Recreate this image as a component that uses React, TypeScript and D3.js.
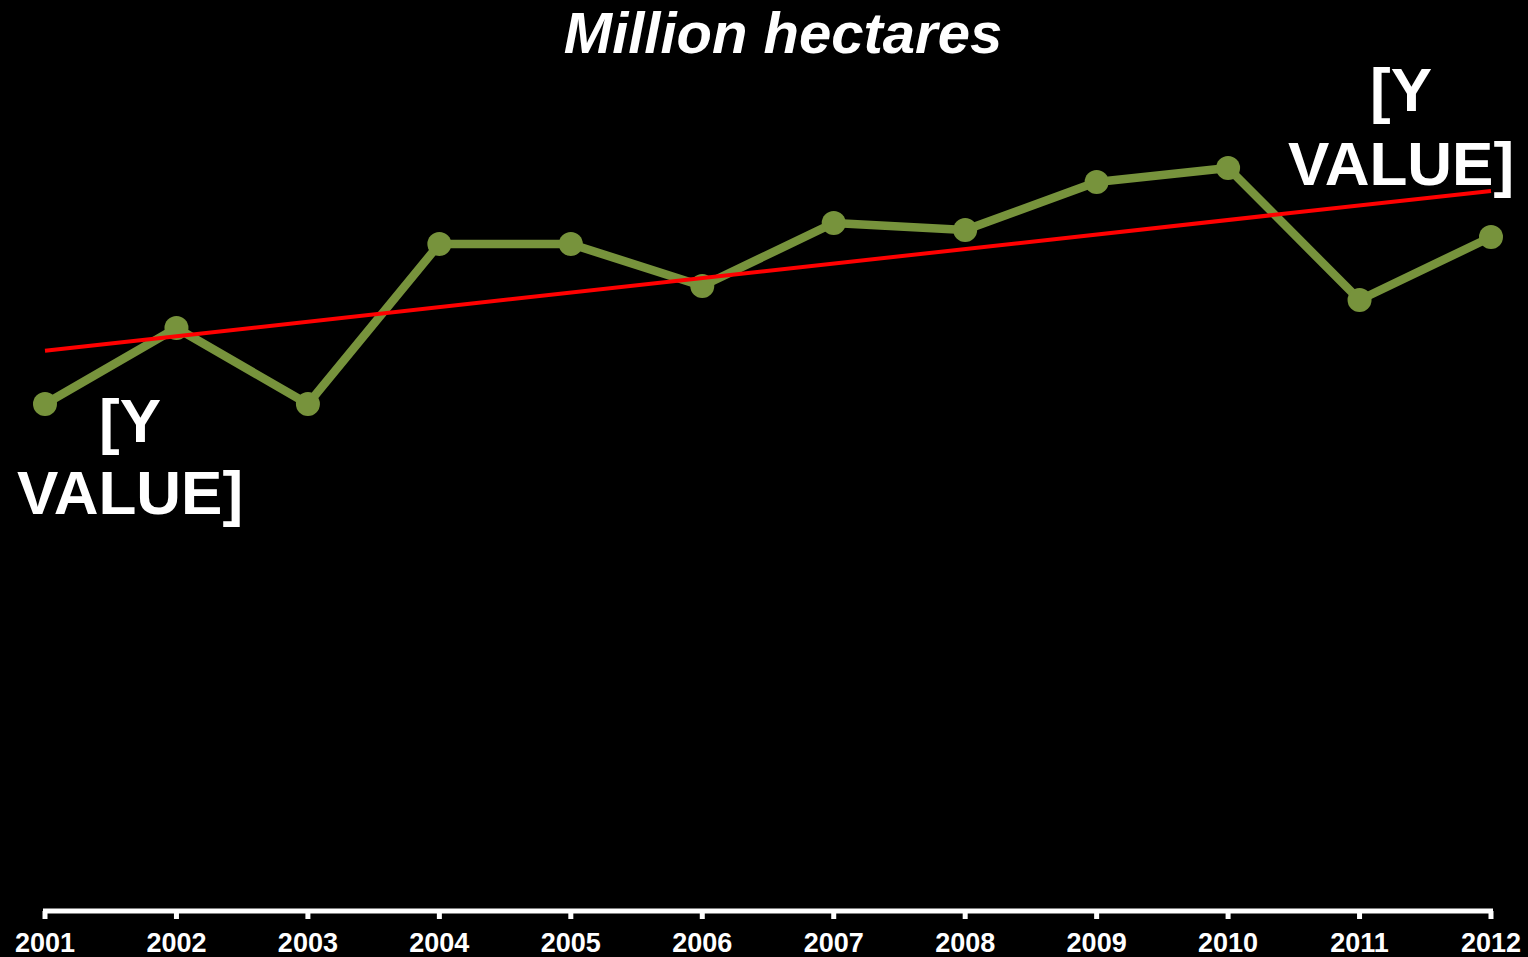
import React, { useEffect, useRef } from "react";
import * as d3 from "d3";

const years = ["2001", "2002", "2003", "2004", "2005", "2006", "2007", "2008", "2009", "2010", "2011", "2012"];
const hectares = [50.7, 58.3, 50.7, 66.7, 66.7, 62.5, 68.8, 68.1, 72.9, 74.3, 61.1, 67.4];
const titleText = "Million hectares";
const pointLabel = ["[Y", "VALUE]"];

const W = 1528;
const H = 957;

export default function App() {
  const ref = useRef<SVGSVGElement | null>(null);

  useEffect(() => {
    const svg = d3.select(ref.current);
    svg.selectAll("*").remove();

    const x = d3.scalePoint<string>().domain(years).range([45, 1491]);
    const y = d3.scaleLinear().domain([0, 80]).range([911, 111]);

    svg.append("rect").attr("width", W).attr("height", H).attr("fill", "#000");

    // title
    svg
      .append("text")
      .attr("x", 783)
      .attr("y", 53)
      .attr("text-anchor", "middle")
      .attr("fill", "#fff")
      .attr("font-family", "'Liberation Sans', Arial, sans-serif")
      .attr("font-weight", "bold")
      .attr("font-style", "italic")
      .attr("font-size", 58)
      .text(titleText);

    // axis
    const axis = svg.append("g");
    axis
      .append("line")
      .attr("x1", x(years[0])! - 2)
      .attr("x2", x(years[years.length - 1])! + 2)
      .attr("y1", y(0))
      .attr("y2", y(0))
      .attr("stroke", "#fff")
      .attr("stroke-width", 5);
    axis
      .selectAll("line.tick")
      .data(years)
      .enter()
      .append("line")
      .attr("class", "tick")
      .attr("x1", (d) => x(d)!)
      .attr("x2", (d) => x(d)!)
      .attr("y1", y(0))
      .attr("y2", y(0) + 8)
      .attr("stroke", "#fff")
      .attr("stroke-width", 5);
    axis
      .selectAll("text")
      .data(years)
      .enter()
      .append("text")
      .attr("x", (d) => x(d)!)
      .attr("y", y(0) + 41)
      .attr("text-anchor", "middle")
      .attr("fill", "#fff")
      .attr("font-family", "'Liberation Sans', Arial, sans-serif")
      .attr("font-weight", "bold")
      .attr("font-size", 27)
      .text((d) => d);

    // series line
    const pts = years.map((yr, i) => ({ yr, v: hectares[i] }));
    const line = d3
      .line<{ yr: string; v: number }>()
      .x((d) => x(d.yr)!)
      .y((d) => y(d.v));
    svg
      .append("path")
      .datum(pts)
      .attr("d", line)
      .attr("fill", "none")
      .attr("stroke", "#77933C")
      .attr("stroke-width", 8.5)
      .attr("stroke-linejoin", "round");
    svg
      .selectAll("circle")
      .data(pts)
      .enter()
      .append("circle")
      .attr("cx", (d) => x(d.yr)!)
      .attr("cy", (d) => y(d.v))
      .attr("r", 12)
      .attr("fill", "#77933C");

    // linear trend line (least squares)
    const n = hectares.length;
    const xs = d3.range(1, n + 1);
    const mx = d3.mean(xs)!;
    const my = d3.mean(hectares)!;
    const sxy = d3.sum(xs.map((xi, i) => (xi - mx) * (hectares[i] - my)));
    const sxx = d3.sum(xs.map((xi) => (xi - mx) ** 2));
    const slope = sxy / sxx;
    const icpt = my - slope * mx;
    svg
      .append("line")
      .attr("x1", x(years[0])!)
      .attr("y1", y(icpt + slope * 1))
      .attr("x2", x(years[n - 1])!)
      .attr("y2", y(icpt + slope * n))
      .attr("stroke", "#FF0000")
      .attr("stroke-width", 4);

    // data labels
    const labels = [
      { i: 0, dx: 85, dy1: 38, dy2: 110 },
      { i: n - 1, dx: -90, dy1: -126, dy2: -52 },
    ];
    labels.forEach((l) => {
      const cx = x(years[l.i])! + l.dx;
      const cy = y(hectares[l.i]);
      const t = svg
        .append("text")
        .attr("text-anchor", "middle")
        .attr("fill", "#fff")
        .attr("font-family", "'Liberation Sans', Arial, sans-serif")
        .attr("font-weight", "bold")
        .attr("font-size", 62);
      t.append("tspan").attr("x", cx).attr("y", cy + l.dy1).text(pointLabel[0]);
      t.append("tspan").attr("x", cx).attr("y", cy + l.dy2).text(pointLabel[1]);
    });
  }, []);

  return (
    <svg
      ref={ref}
      width={W}
      height={H}
      style={{ position: "fixed", top: 0, left: 0, display: "block" }}
    />
  );
}
